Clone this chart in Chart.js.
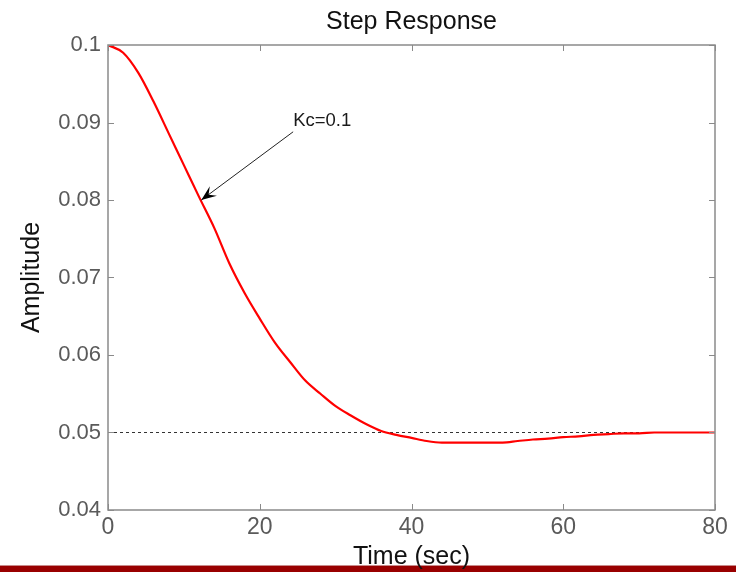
<!DOCTYPE html>
<html>
<head>
<meta charset="utf-8">
<title>Step Response</title>
<script src="https://cdn.jsdelivr.net/npm/chart.js@4.4.1/dist/chart.umd.min.js"></script>
<style>
  html, body { margin: 0; padding: 0; background: #fff; }
  #wrap { width: 736px; height: 572px; position: relative; }
</style>
</head>
<body>
<div id="wrap"><canvas id="stepChart" width="736" height="572"></canvas></div>
<script>
// step response samples (time in sec, amplitude)
const times = [0, 2, 4, 6, 8, 10, 12, 14, 16, 18, 20, 22, 24, 26, 28, 30, 32, 34, 36, 38, 40,
  42, 44, 46, 48, 50, 52, 54, 56, 58, 60, 62, 64, 66, 68, 70, 72, 74, 76, 78, 80];
const amplitude = [0.1000, 0.0990, 0.0964, 0.0927, 0.0886, 0.0845, 0.0804, 0.0764, 0.0718, 0.0680, 0.0647,
  0.0616, 0.0591, 0.0567, 0.0550, 0.0534, 0.0522, 0.0511, 0.0502, 0.0497, 0.0493,
  0.0489, 0.0487, 0.0487, 0.0487, 0.0487, 0.0487, 0.0489, 0.0491, 0.0492, 0.0494,
  0.0495, 0.0497, 0.0498, 0.0499, 0.0499, 0.0500, 0.0500, 0.0500, 0.0500, 0.0500];
const steadyState = 0.05;
const xTicks = [0, 20, 40, 60, 80];
const yTicks = [0.04, 0.05, 0.06, 0.07, 0.08, 0.09, 0.1];

// annotation: label position and arrow (tail -> tip), in data units
const noteText = 'Kc=0.1';
const noteAt = [24.4, 0.0902];
const arrowTail = [24.4, 0.0888];
const arrowTip = [12.3, 0.0800];

const FONT = '"Liberation Sans", Arial, sans-serif';
const FRAME = '#8a8a8a';

// boxed axes with inward tick marks, plus the arrow/label
const axesFrame = {
  id: 'axesFrame',
  beforeDraw(chart) {
    const c = chart.ctx;
    c.save();
    c.fillStyle = '#c98a8a';
    c.fillRect(0, 565, chart.width, 1);
    c.fillStyle = '#990000';
    c.fillRect(0, 566, chart.width, 6);
    c.restore();
  },
  afterDraw(chart) {
    const { ctx: c, chartArea: a, scales: { x, y } } = chart;
    const len = 6;
    c.save();
    c.strokeStyle = FRAME;
    c.lineWidth = 1.5;
    c.strokeRect(a.left, a.top, a.right - a.left, a.bottom - a.top);
    c.lineWidth = 1;
    c.beginPath();
    xTicks.forEach(v => {
      const px = Math.round(x.getPixelForValue(v)) + 0.5;
      c.moveTo(px, a.bottom); c.lineTo(px, a.bottom - len);
      c.moveTo(px, a.top); c.lineTo(px, a.top + len);
    });
    yTicks.forEach(v => {
      const py = Math.round(y.getPixelForValue(v)) + 0.5;
      c.moveTo(a.left, py); c.lineTo(a.left + len, py);
      c.moveTo(a.right, py); c.lineTo(a.right - len, py);
    });
    c.stroke();

    // arrow
    const x0 = x.getPixelForValue(arrowTail[0]), y0 = y.getPixelForValue(arrowTail[1]);
    const x1 = x.getPixelForValue(arrowTip[0]), y1 = y.getPixelForValue(arrowTip[1]);
    const ang = Math.atan2(y1 - y0, x1 - x0);
    c.strokeStyle = '#222';
    c.lineWidth = 1;
    c.beginPath();
    c.moveTo(x0, y0); c.lineTo(x1, y1);
    c.stroke();
    const hl = 15, hw = 6;
    c.fillStyle = '#000';
    c.beginPath();
    c.moveTo(x1, y1);
    c.lineTo(x1 - hl * Math.cos(ang) + hw * Math.sin(ang), y1 - hl * Math.sin(ang) - hw * Math.cos(ang));
    c.lineTo(x1 - 0.6 * hl * Math.cos(ang), y1 - 0.6 * hl * Math.sin(ang));
    c.lineTo(x1 - hl * Math.cos(ang) - hw * Math.sin(ang), y1 - hl * Math.sin(ang) + hw * Math.cos(ang));
    c.closePath();
    c.fill();

    c.fillStyle = '#1a1a1a';
    c.font = '18.5px ' + FONT;
    c.textAlign = 'left';
    c.textBaseline = 'middle';
    c.fillText(noteText, x.getPixelForValue(noteAt[0]), y.getPixelForValue(noteAt[1]));
    c.restore();
  }
};

new Chart(document.getElementById('stepChart'), {
  type: 'line',
  data: {
    datasets: [
      {
        label: 'Step',
        data: times.map((t, i) => ({ x: t, y: amplitude[i] })),
        borderColor: '#ff0000',
        borderWidth: 2.2,
        pointRadius: 0,
        cubicInterpolationMode: 'monotone',
        fill: false
      },
      {
        label: 'Steady state',
        data: [{ x: times[0], y: steadyState }, { x: times[times.length - 1], y: steadyState }],
        borderColor: '#333',
        borderWidth: 1,
        borderDash: [3, 3],
        pointRadius: 0,
        fill: false
      }
    ]
  },
  options: {
    responsive: false,
    animation: false,
    layout: { padding: { left: 17, right: 21, top: 0, bottom: 0 } },
    plugins: {
      legend: { display: false },
      tooltip: { enabled: false },
      title: {
        display: true,
        fullSize: false,   // center over the plot box, not the canvas
        text: 'Step Response',
        color: '#111',
        font: { family: FONT, size: 25, weight: 'normal' },
        padding: { top: 7, bottom: 8 }
      }
    },
    scales: {
      x: {
        type: 'linear',
        min: 0,
        max: 80,
        afterFit: s => { s.height = 62; },
        afterBuildTicks: s => { s.ticks = xTicks.map(v => ({ value: v })); },
        grid: { display: false, drawTicks: false },
        border: { display: false },
        ticks: { color: '#5a5a5a', padding: 4, maxRotation: 0, font: { family: FONT, size: 23 } },
        title: { display: true, text: 'Time (sec)', color: '#111', padding: 0, font: { family: FONT, size: 25 } }
      },
      y: {
        type: 'linear',
        min: 0.04,
        max: 0.1,
        afterFit: s => { s.width = 91; },
        afterBuildTicks: s => { s.ticks = yTicks.map(v => ({ value: v })); },
        grid: { display: false, drawTicks: false },
        border: { display: false },
        ticks: {
          color: '#5a5a5a',
          padding: 7,
          font: { family: FONT, size: 22 },
          callback: v => String(+v.toFixed(2))
        },
        title: { display: true, text: 'Amplitude', color: '#111', padding: 0, font: { family: FONT, size: 25 } }
      }
    }
  },
  plugins: [axesFrame]
});
</script>
</body>
</html>
